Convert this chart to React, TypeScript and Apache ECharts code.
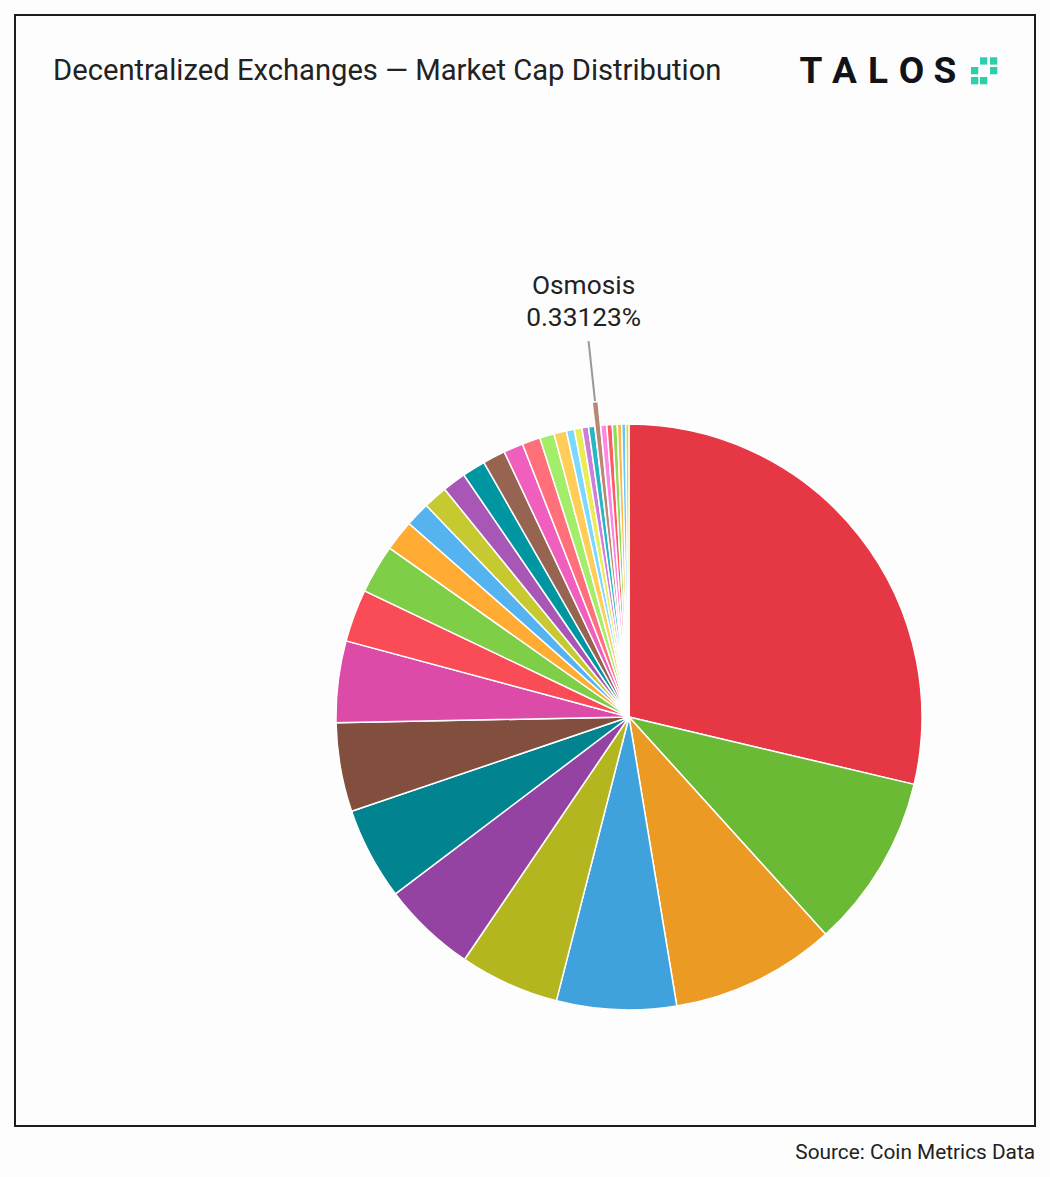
import React, { useEffect, useRef } from "react";
import * as echarts from "echarts";

const titleText = "Decentralized Exchanges — Market Cap Distribution";
const sourceText = "Source: Coin Metrics Data";
const brandLetters = ["T", "A", "L", "O", "S"];
const highlightedName = "Osmosis";

const exchangeNames = [
  "Uniswap", "PancakeSwap", "Curve", "dYdX", "THORChain", "1inch", "SushiSwap", "Balancer",
  "Loopring", "0x", "Bancor", "Kyber Network", "Raydium", "JOE", "GMX", "Serum",
  "Synthetix", "DODO", "Orca", "Perpetual Protocol", "SPELL", "Alpaca", "Biswap", "Ref Finance",
  "Ellipsis", "Osmosis", "Velodrome", "Quickswap", "SpookySwap", "Minswap", "Bakeryswap", "Wombat",
];

const marketSharePct = [
  28.7, 9.6, 9.1, 6.6, 5.5, 5.2, 5.1, 4.9,
  4.5, 2.9, 2.7, 1.7, 1.36, 1.33, 1.3, 1.28,
  1.25, 1.08, 1.0, 0.8, 0.69, 0.44, 0.42, 0.36,
  0.34, 0.33123, 0.33, 0.3, 0.27, 0.24, 0.22, 0.18,
];

const sliceColors = [
  "#e63744", "#6aba35", "#eb9a23", "#40a2dd", "#b3b61f", "#9543a2", "#01848f", "#824e3d",
  "#dd4ba8", "#fa4c57", "#7fce48", "#ffab34", "#55b4f0", "#c6c930", "#a957b6", "#0096a1",
  "#966451", "#f05fbd", "#ff707b", "#a3ee69", "#ffcd58", "#7bd8ff", "#eaec56", "#cb7edb",
  "#25b8c3", "#b88776", "#ff86e2", "#ff5a66", "#8edc56", "#ffb846", "#66c4ff", "#d6d93f",
];

const logoSquares = [
  [980, 57.3], [990, 57.3], [971, 67], [990, 67], [971, 77], [980, 77],
];
const letterCenters = [811, 844.5, 878, 911.5, 945];

export default function App() {
  const ref = useRef<HTMLDivElement>(null);
  useEffect(() => {
    const chart = echarts.init(ref.current as HTMLDivElement, null, { renderer: "svg" });
    const data = exchangeNames.map((name, i) => ({
      name,
      value: marketSharePct[i],
      selected: name === highlightedName,
      itemStyle: { color: sliceColors[i] },
      label: { show: name === highlightedName },
      labelLine: { show: name === highlightedName },
    }));
    const graphics: any[] = [
      {
        type: "rect",
        shape: { x: 15, y: 15, width: 1020, height: 1111 },
        style: { fill: "none", stroke: "#1c1c1c", lineWidth: 2 },
        silent: true,
      },
      {
        type: "text",
        x: 53,
        y: 69.5,
        style: {
          text: titleText,
          fontFamily: "Roboto",
          fontSize: 29.2,
          fill: "#222",
          textAlign: "left",
          textVerticalAlign: "middle",
        },
      },
      {
        type: "text",
        x: 1035,
        y: 1151.7,
        style: {
          text: sourceText,
          fontFamily: "Roboto",
          fontSize: 20.8,
          fill: "#222",
          textAlign: "right",
          textVerticalAlign: "middle",
        },
      },
      ...brandLetters.map((ch, i) => ({
        type: "text",
        x: letterCenters[i],
        y: 70.7,
        style: {
          text: ch,
          fontFamily: "Roboto",
          fontWeight: 700,
          fontSize: 37,
          fill: "#111318",
          textAlign: "center",
          textVerticalAlign: "middle",
        },
      })),
      ...logoSquares.map(([x, y]) => ({
        type: "rect",
        shape: { x, y, width: 7.3, height: 7.3 },
        style: { fill: "#2ccfa9" },
      })),
    ];
    chart.setOption({
      animation: false,
      backgroundColor: "#fdfdfd",
      graphic: graphics,
      series: [
        {
          type: "pie",
          center: [629, 717],
          radius: 293,
          startAngle: 90,
          clockwise: true,
          selectedMode: "single",
          selectedOffset: 24,
          avoidLabelOverlap: false,
          emphasis: { disabled: true },
          itemStyle: { borderColor: "#ffffff", borderWidth: 1.5 },
          label: {
            show: false,
            position: "outside",
            formatter: (p: any) => `${p.name}\n${p.value}%`,
            fontFamily: "Roboto",
            fontSize: 26.3,
            lineHeight: 32,
            color: "#222",
            padding: [0, 0, 8, 0],
          },
          labelLine: {
            show: false,
            length: 61,
            length2: 0,
            lineStyle: { color: "#999", width: 2 },
          },
          labelLayout: (p: any) => {
            const pts = p.labelLinePoints;
            if (!pts) return {};
            const end = pts[1];
            return {
              x: end[0] - 3,
              y: end[1],
              align: "center",
              verticalAlign: "bottom",
              labelLinePoints: pts,
            };
          },
          data,
        },
      ],
    });
    return () => chart.dispose();
  }, []);
  return (
    <div
      ref={ref}
      style={{ position: "fixed", left: 0, top: 0, width: 1050, height: 1177 }}
    />
  );
}
